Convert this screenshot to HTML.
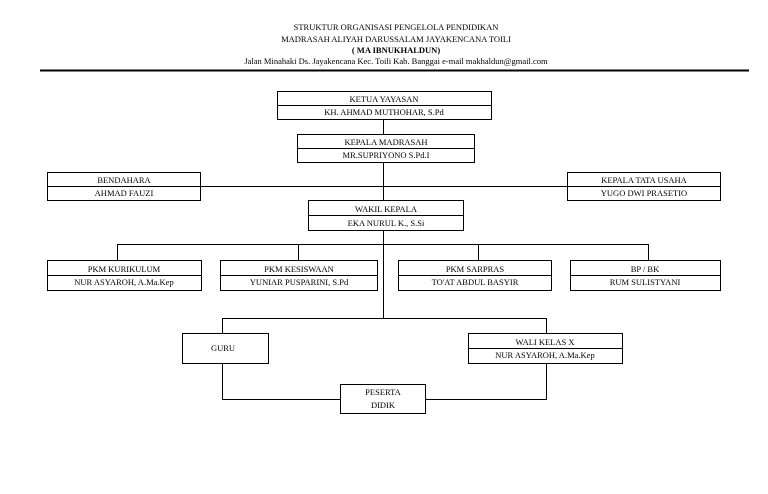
<!DOCTYPE html>
<html><head><style>
body{margin:0;background:#fff;}
svg text{font-family:"Liberation Serif",serif;font-size:8.5px;fill:#000;text-anchor:middle;}
</style></head><body>
<svg width="768" height="489" viewBox="0 0 768 489" xmlns="http://www.w3.org/2000/svg">
<rect width="768" height="489" fill="#fff"/>
<text x="396" y="30">STRUKTUR ORGANISASI PENGELOLA PENDIDIKAN</text>
<text x="396" y="42">MADRASAH ALIYAH DARUSSALAM JAYAKENCANA TOILI</text>
<text x="396" y="53" font-weight="bold">( MA IBNUKHALDUN)</text>
<text x="396" y="64">Jalan Minahaki Ds. Jayakencana Kec. Toili Kab. Banggai e-mail makhaldun@gmail.com</text>
<line x1="40" y1="70.5" x2="749" y2="70.5" stroke="#000" stroke-width="2"/>
<g stroke="#000" stroke-width="1" fill="none">
<line x1="383.5" y1="119" x2="383.5" y2="318"/>
<line x1="47" y1="186.5" x2="720" y2="186.5"/>
<line x1="117.5" y1="244.5" x2="648.5" y2="244.5"/>
<line x1="117.5" y1="244" x2="117.5" y2="260"/>
<line x1="298.5" y1="244" x2="298.5" y2="260"/>
<line x1="478.5" y1="244" x2="478.5" y2="260"/>
<line x1="648.5" y1="244" x2="648.5" y2="260"/>
<polyline points="222.5,333 222.5,318.5 546.5,318.5 546.5,333"/>
<polyline points="222.5,363 222.5,399.5 340,399.5"/>
<polyline points="546.5,363 546.5,399.5 425,399.5"/>
</g>
<g stroke="#000" stroke-width="1" fill="#fff">
<rect x="277.5" y="91.5" width="214" height="28"/>
<rect x="297.5" y="134.5" width="177" height="28"/>
<rect x="47.5" y="172.5" width="153" height="28" fill="none"/>
<rect x="567.5" y="172.5" width="153" height="28" fill="none"/>
<rect x="308.5" y="200.5" width="155" height="30"/>
<rect x="47.5" y="260.5" width="154" height="30"/>
<rect x="220.5" y="260.5" width="157" height="30"/>
<rect x="398.5" y="260.5" width="153" height="30"/>
<rect x="570.5" y="260.5" width="150" height="30"/>
<rect x="182.5" y="333.5" width="86" height="30"/>
<rect x="468.5" y="333.5" width="154" height="30"/>
<rect x="340.5" y="384.5" width="85" height="29"/>
</g>
<g stroke="#000" stroke-width="1">
<line x1="277" y1="105.5" x2="492" y2="105.5"/>
<line x1="297" y1="148.5" x2="475" y2="148.5"/>
<line x1="308" y1="215.5" x2="464" y2="215.5"/>
<line x1="47" y1="275.5" x2="202" y2="275.5"/>
<line x1="220" y1="275.5" x2="378" y2="275.5"/>
<line x1="398" y1="275.5" x2="552" y2="275.5"/>
<line x1="570" y1="275.5" x2="721" y2="275.5"/>
<line x1="468" y1="348.5" x2="623" y2="348.5"/>
</g>
<text x="384" y="102">KETUA YAYASAN</text>
<text x="384" y="115">KH. AHMAD MUTHOHAR, S.Pd</text>
<text x="386" y="145">KEPALA MADRASAH</text>
<text x="386" y="158">MR.SUPRIYONO S.Pd.I</text>
<text x="124" y="183">BENDAHARA</text>
<text x="124" y="196">AHMAD FAUZI</text>
<text x="644" y="183">KEPALA TATA USAHA</text>
<text x="644" y="196">YUGO DWI PRASETIO</text>
<text x="386" y="212">WAKIL KEPALA</text>
<text x="386" y="226">EKA NURUL K., S.Si</text>
<text x="124" y="272">PKM KURIKULUM</text>
<text x="124" y="285">NUR ASYAROH, A.Ma.Kep</text>
<text x="299" y="272">PKM KESISWAAN</text>
<text x="299" y="285">YUNIAR PUSPARINI, S.Pd</text>
<text x="475" y="272">PKM SARPRAS</text>
<text x="475" y="285">TO'AT ABDUL BASYIR</text>
<text x="645" y="272">BP / BK</text>
<text x="645" y="285">RUM SULISTYANI</text>
<text x="223" y="351">GURU</text>
<text x="545" y="345">WALI KELAS X</text>
<text x="545" y="358">NUR ASYAROH, A.Ma.Kep</text>
<text x="383" y="395">PESERTA</text>
<text x="383" y="408">DIDIK</text>
</svg>
</body></html>
